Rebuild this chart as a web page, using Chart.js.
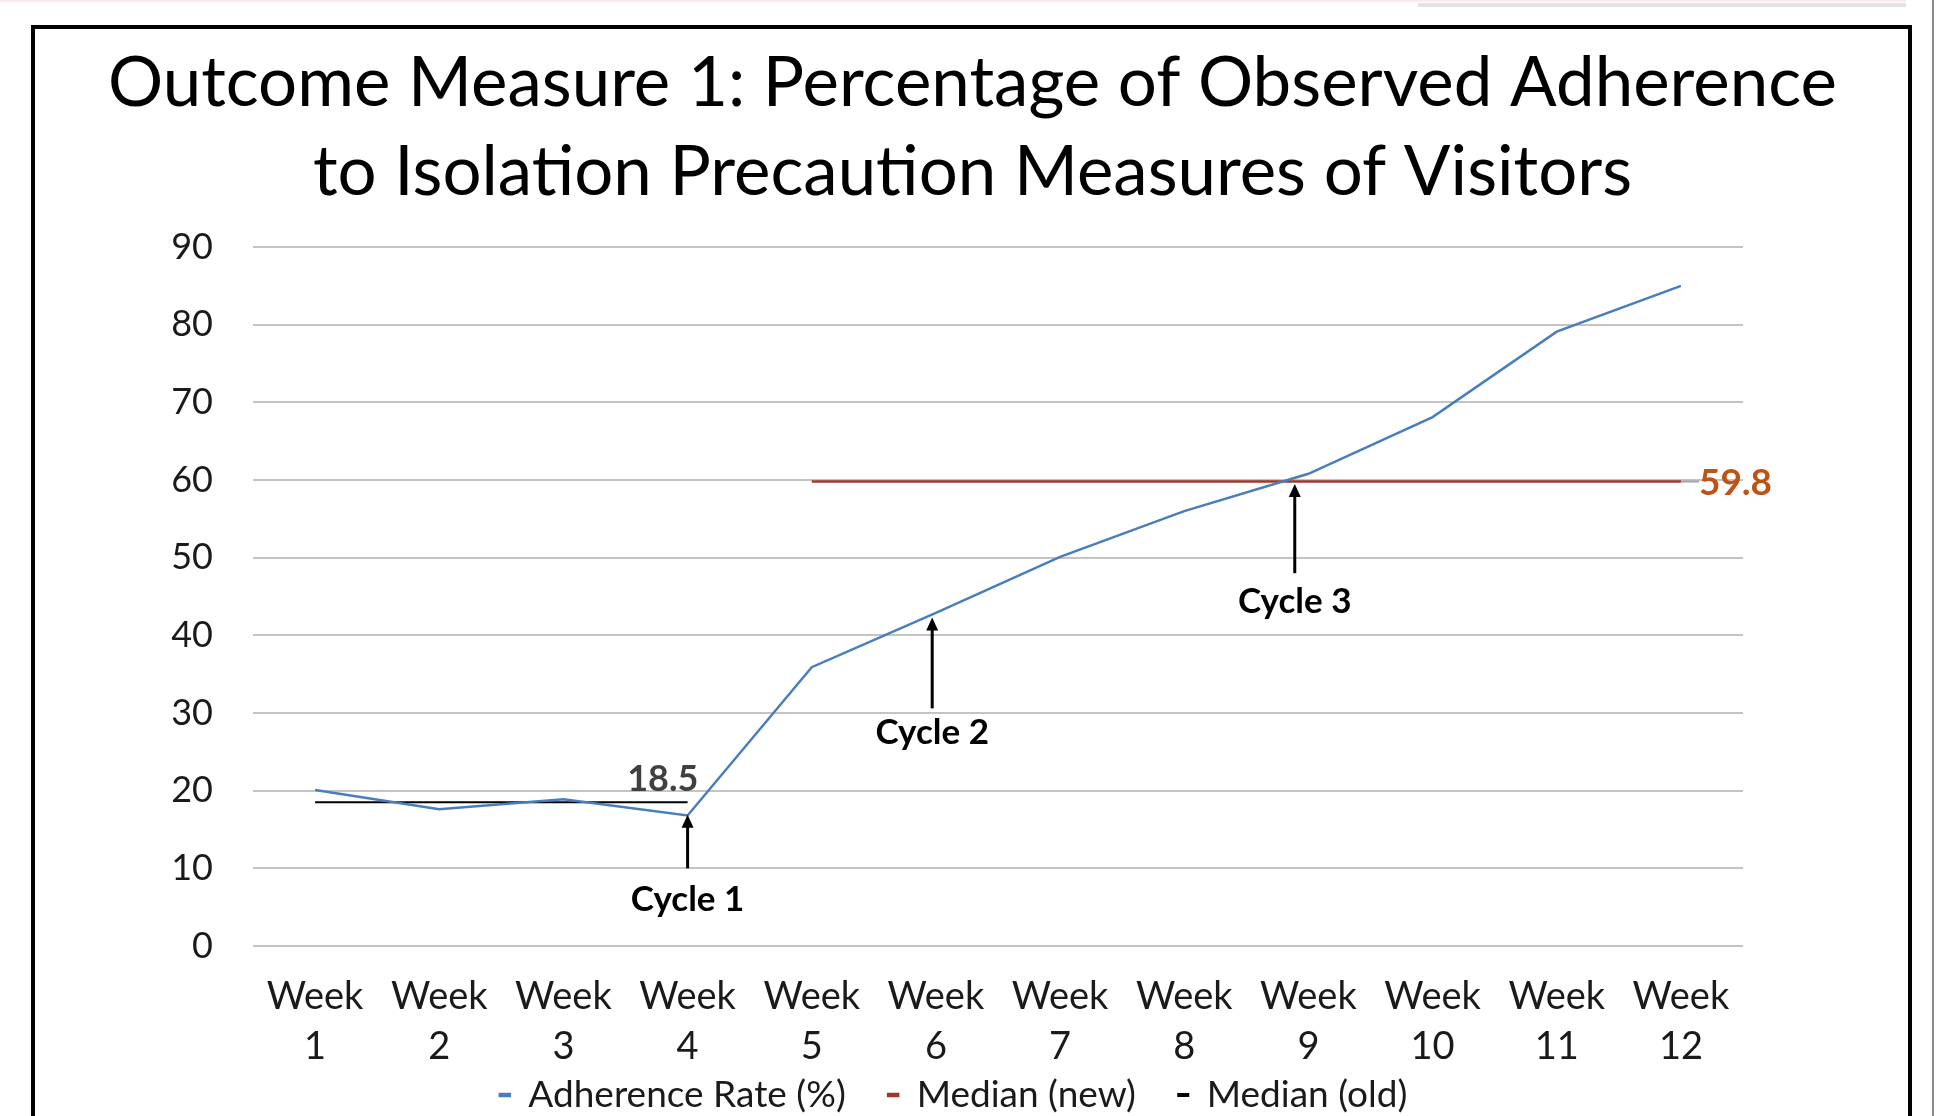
<!DOCTYPE html>
<html>
<head>
<meta charset="utf-8">
<script src="https://cdn.jsdelivr.net/npm/chart.js@4"></script>
<style>
    html, body { margin: 0; padding: 0; background: #fff; }
    #wrap { position: relative; width: 1945px; height: 1116px; overflow: hidden; }
    #frame { position: absolute; left: 31px; top: 25px; width: 1873px; height: 1200px; border: 4px solid #000; }
    #edge { position: absolute; left: 1932px; top: 0; width: 2px; height: 1116px; background: #8a8a8a; }
    #topline { position: absolute; left: 1418px; top: 3px; width: 488px; height: 4px; background: #e2e2e2; }
    #pink { position: absolute; left: 0; top: 0; width: 1906px; height: 2px; background: #fbe9e9; }
    canvas { position: absolute; left: 0; top: 0; }
</style>
</head>
<body>
<div id="wrap">
    <div id="pink"></div>
    <div id="topline"></div>
    <div id="frame"></div>
    <div id="edge"></div>
    <canvas id="chart" width="1945" height="1116"></canvas>
</div>
<script>
const weeks = ['Week 1', 'Week 2', 'Week 3', 'Week 4', 'Week 5', 'Week 6',
    'Week 7', 'Week 8', 'Week 9', 'Week 10', 'Week 11', 'Week 12'];
const adherence = [20.1, 17.6, 18.9, 16.8, 35.9, 42.9, 50.1, 56.0, 60.8, 68.1, 79.1, 85.0];
const medianNew = [null, null, null, null, 59.8, 59.8, 59.8, 59.8, 59.8, 59.8, 59.8, 59.8];
const medianOld = [18.5, 18.5, 18.5, 18.5, null, null, null, null, null, null, null, null];

// arrows under the line, in data units (x = week index, y = value)
const cycleNames = ['Cycle 1', 'Cycle 2', 'Cycle 3'];
const cycleAt = [3, 4.97, 7.89];
const cycleTip = [16.9, 42.3, 59.5];
const cycleTail = [10.0, 30.6, 48.0];
const cycleText = [5.9, 27.4, 44.3];

const FONT = 'Lato, "Open Sans", sans-serif';

const annotate = {
    id: 'annotate',
    afterDatasetsDraw(chart) {
        const {ctx, scales: {x, y}} = chart;
        ctx.save();
        ctx.fillStyle = '#000';
        ctx.strokeStyle = '#000';
        cycleNames.forEach((name, i) => {
            const px = x.getPixelForValue(cycleAt[i]);
            const tip = y.getPixelForValue(cycleTip[i]);
            const tail = y.getPixelForValue(cycleTail[i]);
            ctx.lineWidth = 3;
            ctx.beginPath();
            ctx.moveTo(px, tail);
            ctx.lineTo(px, tip + 10);
            ctx.stroke();
            ctx.beginPath();
            ctx.moveTo(px, tip);
            ctx.lineTo(px - 6, tip + 13);
            ctx.lineTo(px + 6, tip + 13);
            ctx.closePath();
            ctx.fill();
            ctx.font = 'bold 35px ' + FONT;
            ctx.textAlign = 'center';
            ctx.textBaseline = 'middle';
            ctx.fillText(name, px, y.getPixelForValue(cycleText[i]));
        });

        // old median value
        ctx.font = 'bold 36px ' + FONT;
        ctx.fillStyle = '#404040';
        ctx.textAlign = 'center';
        ctx.fillText(String(medianOld[0]), x.getPixelForValue(2.8), y.getPixelForValue(21.4));

        // new median value with a short leader
        const last = medianNew.length - 1;
        const ex = x.getPixelForValue(last);
        const ey = y.getPixelForValue(medianNew[last]);
        ctx.strokeStyle = '#a6a6a6';
        ctx.lineWidth = 2;
        ctx.beginPath();
        ctx.moveTo(ex, ey);
        ctx.lineTo(ex + 18, ey);
        ctx.stroke();
        ctx.fillStyle = '#bd5316';
        ctx.font = 'bold 37px ' + FONT;
        ctx.textAlign = 'left';
        ctx.fillText(String(medianNew[last]), ex + 18, ey + 1);
        ctx.restore();
    }
};

new Chart(document.getElementById('chart'), {
    type: 'line',
    data: {
        labels: weeks,
        datasets: [{
            label: 'Adherence Rate (%)',
            data: adherence,
            borderColor: '#4a7ebb',
            backgroundColor: '#4a7ebb',
            borderWidth: 2.5,
            pointRadius: 0
        }, {
            label: 'Median (new)',
            data: medianNew,
            borderColor: '#a0382a',
            backgroundColor: '#a0382a',
            borderWidth: 2.5,
            pointRadius: 0
        }, {
            label: 'Median (old)',
            data: medianOld,
            borderColor: '#000',
            backgroundColor: '#000',
            borderWidth: 2,
            pointRadius: 0
        }]
    },
    options: {
        responsive: false,
        animation: false,
        layout: {padding: {top: 0, left: 0, right: 0, bottom: -7.5}},
        plugins: {
            title: {
                display: true,
                text: ['Outcome Measure 1: Percentage of Observed Adherence',
                    'to Isolation Precaution Measures of Visitors'],
                color: '#000',
                font: {family: FONT, size: 69, weight: 'normal', lineHeight: 1.29},
                padding: {top: 39, bottom: 30}
            },
            legend: {
                position: 'bottom',
                labels: {
                    color: '#1a1a1a',
                    font: {family: FONT, size: 37},
                    boxWidth: 10,
                    boxHeight: 2,
                    padding: 4.5,
                    generateLabels: (chart) =>
                        Chart.defaults.plugins.legend.labels.generateLabels(chart)
                            .map((l) => Object.assign(l, {text: l.text + '    '}))
                }
            },
            tooltip: {enabled: false}
        },
        scales: {
            x: {
                offset: true,
                grid: {display: false, drawTicks: false},
                border: {display: false},
                ticks: {
                    color: '#1a1a1a',
                    font: {family: FONT, size: 38, lineHeight: 1.316},
                    padding: 26,
                    maxRotation: 0,
                    autoSkip: false,
                    callback: (v, i) => weeks[i].split(' ')
                },
                afterFit: (s) => { s.height = 126; }
            },
            y: {
                min: 0,
                max: 90,
                grid: {color: '#c4c4c4', lineWidth: 2, drawTicks: false},
                border: {display: false},
                ticks: {
                    stepSize: 10,
                    color: '#1a1a1a',
                    font: {family: FONT, size: 36},
                    padding: 40
                },
                afterFit: (s) => { s.width = 253; }
            },
            yR: {
                position: 'right',
                grid: {display: false, drawTicks: false},
                border: {display: false},
                ticks: {display: false},
                afterFit: (s) => { s.width = 202; }
            }
        }
    },
    plugins: [annotate]
});
</script>
</body>
</html>
